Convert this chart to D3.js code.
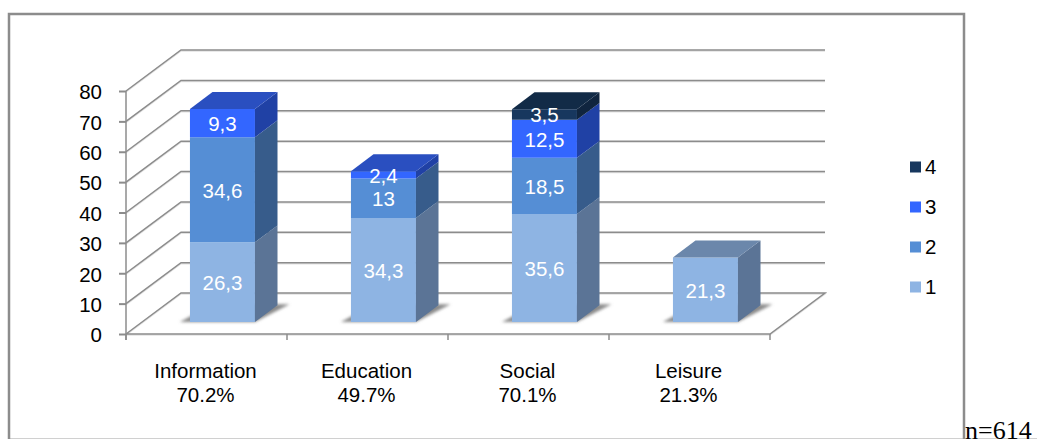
<!DOCTYPE html>
<html>
<head>
<meta charset="utf-8">
<script src="https://cdn.jsdelivr.net/npm/d3@7"></script>
<style>
  html, body { margin: 0; padding: 0; background: #fff; overflow: hidden; }
  text { font-family: "Liberation Sans", Arial, sans-serif; }
</style>
</head>
<body>
<div id="chart-area"></div>
<script>
const categories = ['Information', 'Education', 'Social', 'Leisure'];
const totals = ['70.2%', '49.7%', '70.1%', '21.3%'];
const seriesNames = ['1', '2', '3', '4'];
const series1 = [26.3, 34.3, 35.6, 21.3];
const series2 = [34.6, 13, 18.5, 0];
const series3 = [9.3, 2.4, 12.5, 0];
const series4 = [0, 0, 3.5, 0];
const tickValues = [0, 10, 20, 30, 40, 50, 60, 70, 80];

const widthSvg = 1037;
const heightSvg = 439;
const fontSize = 20.5;
const colorsFront = ['#8eb4e3', '#558ed5', '#3366ff', '#17375e'];
const colorsSide = ['#5b7496', '#375c8b', '#2041a5', '#10253f'];
const colorsTop = ['#6b87ab', '#3f6aa5', '#2a4fc0', '#122b47'];
const gridColor = '#8c8c8c';

const scaleX = d3.scaleBand().domain(categories).range([126, 770]);
const scaleY = d3.scaleLinear().domain([0, 80]).range([334, 91]);
// depth runs from the front of the floor (0) to the back wall (1)
const depthX = d3.scaleLinear().domain([0, 1]).range([0, 55]);
const depthY = d3.scaleLinear().domain([0, 1]).range([0, -41]);

const px = (x, d) => x + depthX(d);
const py = (v, d) => scaleY(v) + depthY(d);
const points = arr => arr.map(p => p.join(',')).join(' ');

const barWidth = 65;
const depthFront = 0.29;
const depthBack = 0.70;

const svg = d3.select('#chart-area')
  .append('svg')
    .attr('width', widthSvg)
    .attr('height', heightSvg)
    .style('display', 'block');

const defs = svg.append('defs');
defs.append('filter')
    .attr('id', 'soft')
    .attr('x', '-20%').attr('y', '-40%').attr('width', '140%').attr('height', '180%')
  .append('feGaussianBlur')
    .attr('stdDeviation', 1.6);

// outer frame
svg.append('line')
  .attr('x1', 10).attr('x2', widthSvg).attr('y1', 438.5).attr('y2', 438.5)
  .attr('stroke', '#d0d0d0');
svg.append('path')
  .attr('d', 'M9,439V14H964V439')
  .attr('fill', 'none')
  .attr('stroke', gridColor)
  .attr('stroke-width', 2.5);

const x0 = scaleX.range()[0];
const x1 = scaleX.range()[1];

// walls and floor, with the faint shade under each line
[{ offset: 1, color: '#e2e2e2' }, { offset: 0, color: gridColor }].forEach(pass => {
  const walls = svg.append('g')
    .attr('transform', `translate(0, ${pass.offset})`)
    .attr('fill', 'none')
    .attr('stroke', pass.color)
    .attr('stroke-width', 1.5);

  tickValues.slice(1).forEach(t => {
    walls.append('polyline')
      .attr('points', points([[x0, scaleY(t)], [px(x0, 1), py(t, 1)], [px(x1, 1), py(t, 1)]]));
  });

  walls.append('polyline')
    .attr('points', points([
      [x0, scaleY(0)], [px(x0, 1), py(0, 1)], [px(x1, 1), py(0, 1)], [x1, scaleY(0)], [x0, scaleY(0)]
    ]));
});

// y axis and its ticks
const axisY = d3.axisLeft(scaleY).tickValues(tickValues).tickSize(7).tickPadding(17);
const groupY = svg.append('g')
  .attr('transform', `translate(${x0}, 0)`)
  .call(axisY);
groupY.select('.domain').remove();
groupY.selectAll('line').attr('stroke', gridColor).attr('stroke-width', 2);
groupY.selectAll('text').attr('font-size', fontSize).attr('fill', '#000').attr('dy', '0.38em');
svg.append('line')
  .attr('x1', x0).attr('x2', x0).attr('y1', scaleY(80)).attr('y2', scaleY(0) + 6)
  .attr('stroke', gridColor).attr('stroke-width', 1.5);

// category ticks along the front edge
d3.range(categories.length + 1).forEach(i => {
  const x = x0 + i * scaleX.bandwidth();
  svg.append('line')
    .attr('x1', x).attr('x2', x).attr('y1', scaleY(0)).attr('y2', scaleY(0) + 6)
    .attr('stroke', gridColor).attr('stroke-width', 1.5);
});

// bars
const allSeries = [series1, series2, series3, series4];
const barsLayer = svg.append('g');

categories.forEach((cat, i) => {
  const center = scaleX(cat) + scaleX.bandwidth() / 2;
  const left = center + depthX(depthFront) - barWidth / 2;
  const right = left + barWidth;
  const g = barsLayer.append('g');

  const dz = depthBack - depthFront;
  const baseY = py(0, depthFront);
  const shift = depthX(dz);

  // floor shadow
  g.append('polygon')
    .attr('points', points([
      [left - 10, baseY],
      [right, baseY],
      [right + shift + 12, baseY + depthY(dz) - 1],
      [left + shift, baseY + depthY(dz) - 1]
    ]))
    .attr('fill', '#8a8a8a')
    .attr('filter', 'url(#soft)');

  let start = 0;
  const stack = allSeries.map(s => s[i]);
  const topIndex = stack.reduce((acc, v, k) => (v > 0 ? k : acc), 0);
  const labels = [];

  stack.forEach((v, k) => {
    if (v <= 0) return;
    const end = start + v;
    const yBottom = py(start, depthFront);
    const yTop = py(end, depthFront);
    g.append('polygon')
      .attr('points', points([[left, yBottom], [right, yBottom], [right, yTop], [left, yTop]]))
      .attr('fill', colorsFront[k]);
    g.append('polygon')
      .attr('points', points([
        [right, yBottom], [right + shift, yBottom + depthY(dz)],
        [right + shift, yTop + depthY(dz)], [right, yTop]
      ]))
      .attr('fill', colorsSide[k]);
    if (k === topIndex) {
      g.append('polygon')
        .attr('points', points([
          [left, yTop], [right, yTop],
          [right + shift, yTop + depthY(dz)], [left + shift, yTop + depthY(dz)]
        ]))
        .attr('fill', colorsTop[k]);
    }
    labels.push({ v, y: (yBottom + yTop) / 2 });
    start = end;
  });

  labels.forEach(l => {
    g.append('text')
      .attr('x', (left + right) / 2)
      .attr('y', l.y + 0.5)
      .attr('dy', '0.36em')
      .attr('text-anchor', 'middle')
      .attr('font-size', fontSize)
      .attr('fill', '#fff')
      .text(String(l.v).replace('.', ','));
  });

  // category label
  const label = svg.append('text')
    .attr('text-anchor', 'middle')
    .attr('font-size', fontSize)
    .attr('fill', '#000');
  label.append('tspan').attr('x', center - 1).attr('y', 378).text(cat);
  label.append('tspan').attr('x', center - 1).attr('y', 402).text(totals[i]);
});

// legend
const scaleLegend = d3.scaleBand().domain(seriesNames.slice().reverse()).range([147, 307]);
seriesNames.forEach((name, k) => {
  const yc = scaleLegend(name) + scaleLegend.bandwidth() / 2;
  svg.append('rect')
    .attr('x', 910).attr('y', yc - 5.5)
    .attr('width', 11).attr('height', 11)
    .attr('fill', colorsFront[k]);
  svg.append('text')
    .attr('x', 925).attr('y', yc)
    .attr('dy', '0.36em')
    .attr('font-size', fontSize)
    .attr('fill', '#000')
    .text(name);
});

svg.append('text')
  .attr('x', 965).attr('y', 439)
  .attr('font-size', 26)
  .style('font-family', '"Liberation Serif", serif')
  .attr('fill', '#000')
  .text('n=614');
</script>
</body>
</html>
